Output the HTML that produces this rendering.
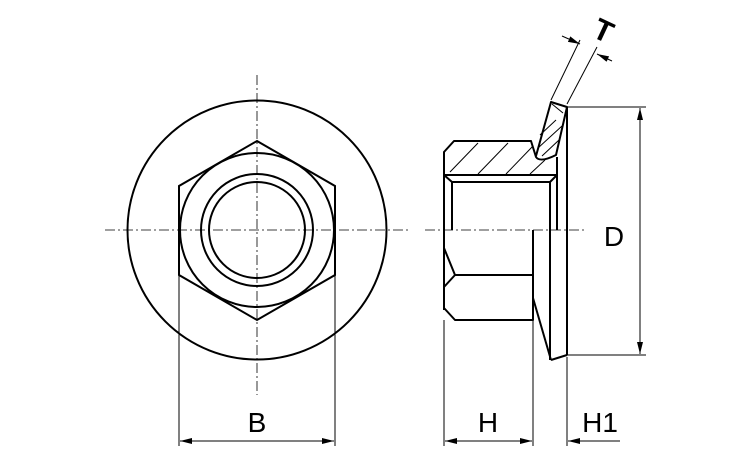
<!DOCTYPE html>
<html><head><style>html,body{margin:0;padding:0;background:#fff}svg{display:block}</style></head>
<body>
<svg width="750" height="450" viewBox="0 0 750 450" xmlns="http://www.w3.org/2000/svg">
<defs>
<marker id="a" viewBox="0 0 12 6" refX="12" refY="3" markerWidth="12" markerHeight="6" markerUnits="userSpaceOnUse" orient="auto"><path d="M0,0 L12,3 L0,6 z" fill="#000"/></marker>
</defs>
<g fill="none" stroke="#000">
<g stroke-width="0.8" stroke-dasharray="10,3,2,3">
<line x1="105" y1="230" x2="410" y2="230"/>
<line x1="257" y1="75" x2="257" y2="395"/>
<line x1="425" y1="230" x2="585" y2="230"/>
</g>
<g stroke-width="2">
<circle cx="257" cy="230" r="129.5"/>
<polygon points="257,141 335,186 335,275 257,320 179,275 179,186"/>
<circle cx="257" cy="230" r="77"/>
<circle cx="257" cy="230" r="56"/>
<circle cx="257" cy="230" r="48"/>
</g>
<g stroke-width="2" stroke-linejoin="round">
<path d="M444,310 L444,152 L454,141 L531,141 L536,157 Q540,163 556,155 L567,107 L551,102 L536,156"/>
<path d="M444,175 L557,175 L557,157"/>
<path d="M444,175 L452,182 L550,182 L557,175"/>
<line x1="452" y1="182" x2="452" y2="230"/>
<line x1="557" y1="175" x2="557" y2="230"/>
<line x1="550" y1="182" x2="550" y2="360"/>
<line x1="567" y1="107" x2="567" y2="355"/>
<path d="M551,360 L567,355"/>
<path d="M533,230 L533,320 L455,320 L444,308"/>
<path d="M444,248 L455,275 L444,287"/>
<line x1="455" y1="275" x2="533" y2="275"/>
<line x1="533" y1="298" x2="551" y2="360"/>
</g>
<g stroke-width="1">
<line x1="450" y1="172" x2="478" y2="143"/>
<line x1="478" y1="174" x2="508" y2="143"/>
<line x1="506" y1="174" x2="533" y2="146"/>
<line x1="530" y1="174" x2="545" y2="160"/>
<line x1="540" y1="135" x2="556" y2="120"/>
<line x1="538" y1="148" x2="562" y2="126"/>
<line x1="542" y1="156" x2="559" y2="140"/>
<line x1="552" y1="104" x2="563" y2="113"/>
</g>
<g stroke-width="1">
<line x1="179" y1="276" x2="179" y2="446"/>
<line x1="335" y1="276" x2="335" y2="446"/>
<line x1="190" y1="441" x2="180" y2="441" marker-end="url(#a)"/>
<line x1="190" y1="441" x2="334" y2="441" marker-end="url(#a)"/>
<line x1="444" y1="320" x2="444" y2="446"/>
<line x1="533" y1="320" x2="533" y2="446"/>
<line x1="567" y1="357" x2="567" y2="446"/>
<line x1="460" y1="441" x2="445" y2="441" marker-end="url(#a)"/>
<line x1="460" y1="441" x2="532" y2="441" marker-end="url(#a)"/>
<line x1="620" y1="441" x2="568" y2="441" marker-end="url(#a)"/>
<line x1="567" y1="107" x2="646" y2="107"/>
<line x1="567" y1="355" x2="646" y2="355"/>
<line x1="640" y1="200" x2="640" y2="108" marker-end="url(#a)"/>
<line x1="640" y1="200" x2="640" y2="354" marker-end="url(#a)"/>
<line x1="551" y1="100" x2="580" y2="40"/>
<line x1="567" y1="104" x2="597" y2="47"/>
<line x1="562" y1="36" x2="580" y2="44" marker-end="url(#a)"/>
<line x1="612" y1="61" x2="597" y2="54" marker-end="url(#a)"/>
</g>
</g>
<g font-family="Liberation Sans, sans-serif" font-size="28" fill="#000" text-anchor="middle">
<text x="257" y="432">B</text>
<text x="488" y="432">H</text>
<text x="600" y="432">H1</text>
<text x="614" y="246">D</text>
<text x="0" y="0" font-weight="bold" font-size="30" transform="translate(599,40) rotate(25)">T</text>
</g>
</svg>
</body></html>
